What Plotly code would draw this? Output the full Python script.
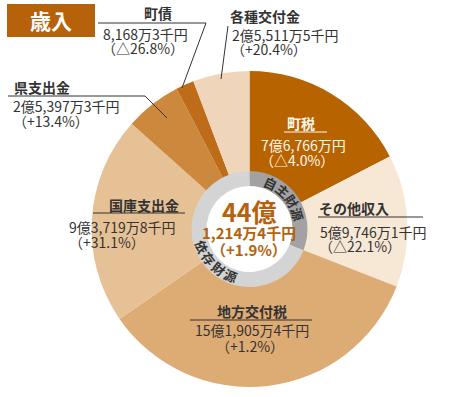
import math
import plotly.graph_objects as go

W, H = 462, 397

categories = ["町税", "その他収入", "地方交付税", "国庫支出金", "県支出金", "町債", "各種交付金"]
values = [76766, 59746.1, 151905.4, 93719.8, 25397.3, 8168.3, 25511.5]  # 万円
amount_labels = ["7億6,766万円", "5億9,746万1千円", "15億1,905万4千円", "9億3,719万8千円",
                 "2億5,397万3千円", "8,168万3千円", "2億5,511万5千円"]
change_labels = ["（△4.0%）", "（△22.1%）", "（+1.2%）", "（+31.1%）",
                 "（+13.4%）", "（△26.8%）", "（+20.4%）"]
slice_colors = ["#b76300", "#f7e8d6", "#ddab74", "#e6c195", "#cc883c", "#bf6c1a", "#efd6ba"]

source_groups = ["自主財源", "依存財源"]
source_values = [values[0] + values[1], sum(values[2:])]
source_colors = ["#a2a2a2", "#d4d4d4"]

total_text = ["44億", "1,214万4千円", "（+1.9%）"]

FONT = "Noto Sans CJK JP"
BROWN = "#b5620a"
DARK = "#333333"

# geometry (pixels)
CX, CY, R = 249.5, 229, 158
R_RING_OUT, R_RING_IN = 58, 43


def px(x):
    return x / W


def py(y):
    return 1 - y / H


def dom(r):
    return dict(x=[px(CX - r), px(CX + r)], y=[py(CY + r), py(CY - r)])


fig = go.Figure()
fig.add_trace(go.Pie(
    labels=categories, values=values, sort=False, direction="clockwise", rotation=0,
    marker=dict(colors=slice_colors, line=dict(width=0)),
    textinfo="none", hoverinfo="label+value", hole=0.3, domain=dom(R),
))
fig.add_trace(go.Pie(
    labels=source_groups, values=source_values, sort=False, direction="clockwise", rotation=0,
    marker=dict(colors=source_colors, line=dict(width=0)),
    textinfo="none", hoverinfo="label+value", hole=R_RING_IN / R_RING_OUT, domain=dom(R_RING_OUT),
))

ann = []
shapes = []


def text(x, y, s, size=14, color=DARK, anchor="left", bold=False, angle=0):
    if bold:
        s = "<b>" + s + "</b>"
    ann.append(dict(x=px(x), y=py(y), xref="paper", yref="paper", text=s, showarrow=False,
                    xanchor=anchor, yanchor="middle", textangle=angle,
                    font=dict(family=FONT, size=size, color=color)))


def line(x0, y0, x1, y1, color="#333333", w=1):
    shapes.append(dict(type="line", xref="paper", yref="paper", x0=px(x0), y0=py(y0),
                       x1=px(x1), y1=py(y1), line=dict(color=color, width=w)))


# label layout: name center, underline, value block
layout_pos = {
    0: dict(name=(301, 123), ul=(284, 327, 132), amt=(259, 145), chg=(258, 160), col="#fff8ee", anchor="left"),
    1: dict(name=(354, 208), ul=(318, 423, 217), amt=(318, 232), chg=(317, 246), col=DARK, anchor="left"),
    2: dict(name=(252, 311), ul=(190, 312, 320), amt=(252, 330), chg=(250, 346), col=DARK, anchor="center"),
    3: dict(name=(144, 205), ul=(93, 185, 213), amt=(67, 227), chg=(67, 242), col=DARK, anchor="left"),
    4: dict(name=(42, 87), ul=(8, 145, 96), amt=(11, 106), chg=(11, 121), col=DARK, anchor="left"),
    5: dict(name=(158, 13), ul=(98, 206, 23), amt=(101, 34), chg=(100, 48), col=DARK, anchor="left"),
    6: dict(name=(265, 16), ul=None, amt=(230, 35), chg=(229, 49), col=DARK, anchor="left"),
}

for i, p in layout_pos.items():
    text(p["name"][0], p["name"][1], categories[i], size=14, color=p["col"], anchor="center", bold=True)
    if p["ul"]:
        line(p["ul"][0], p["ul"][2], p["ul"][1], p["ul"][2], color=p["col"])
    text(p["amt"][0], p["amt"][1], amount_labels[i], size=14, color=p["col"], anchor=p["anchor"])
    text(p["chg"][0], p["chg"][1], change_labels[i], size=14, color=p["col"], anchor=p["anchor"])

# leaders
line(145, 96, 167, 118)
line(206, 23, 182, 88)
line(228, 26, 221, 79)

# ring text along arc
def arc_chars(chars, angles, flip):
    rr = (R_RING_OUT + R_RING_IN) / 2
    for ch, th in zip(chars, angles):
        t = math.radians(th)
        x = CX + rr * math.sin(t)
        y = CY - rr * math.cos(t)
        text(x, y, ch, size=13, color="#333333", anchor="center", bold=True,
             angle=(th - 180) if flip else th)


arc_chars(list(source_groups[0]), [25, 41, 57, 73], False)
arc_chars(list(source_groups[1]), [250, 234, 218, 202], True)

# center total
text(CX, 211, total_text[0], size=25, color=BROWN, anchor="center", bold=True)
text(CX, 232, total_text[1], size=15, color=BROWN, anchor="center", bold=True)
text(CX, 249, total_text[2], size=15, color=BROWN, anchor="center", bold=True)

# title box
shapes.append(dict(type="rect", xref="paper", yref="paper", x0=px(7), x1=px(95), y0=py(37), y1=py(4),
                   fillcolor="#b5620a", line=dict(width=0), layer="below"))
text(51, 20, "歳入", size=21, color="#ffffff", anchor="center", bold=True)

fig.update_layout(
    width=W, height=H, margin=dict(l=0, r=0, t=0, b=0),
    paper_bgcolor="white", plot_bgcolor="white", showlegend=False,
    annotations=ann, shapes=shapes,
)
fig.write_html("out.html", config={"displayModeBar": False},
               post_script="document.body.style.margin='0';document.body.style.overflow='hidden';")
